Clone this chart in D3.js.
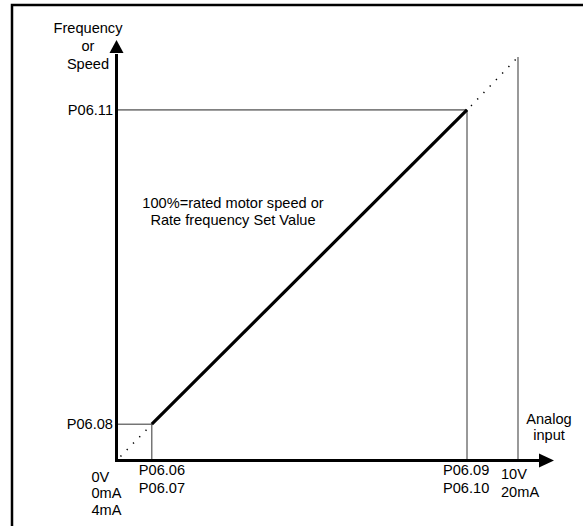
<!DOCTYPE html>
<html><head><meta charset="utf-8">
<script src="https://cdn.jsdelivr.net/npm/d3@7"></script>
<style>body{margin:0;background:#fff}svg{display:block}text{font-family:"Liberation Sans",Arial,sans-serif;font-size:14.6px;fill:#000}</style>
</head><body>
<svg id="c" width="583" height="526"></svg>
<script>
// Analog input values (0..10 = 0V..10V) and output values (0..10 = 0..100%)
const inputPoints = [0, 0.88, 8.73, 10];          // origin, P06.06, P06.09, 10V
const outputPoints = [0, 0.9, 8.69, 10];          // origin, P06.08, P06.11, max
const xTickLabels = [["0V","0mA","4mA"], ["P06.06","P06.07"], ["P06.09","P06.10"], ["10V","20mA"]];
const yTickLabels = ["", "P06.08", "P06.11", ""];
const yTitle = ["Frequency","or","Speed"];
const xTitle = ["Analog","input"];
const note = ["100%=rated motor speed or","Rate frequency Set Value"];

const svg = d3.select("#c");
const x = d3.scaleLinear().domain([0,10]).range([116.5,518]);
const y = d3.scaleLinear().domain([0,10]).range([460.5,57]);

// frame
svg.append("rect").attr("x",12).attr("y",5).attr("width",700).attr("height",700)
  .attr("fill","none").attr("stroke","#000").attr("stroke-width",2.5);

const x0=inputPoints[0], x1=inputPoints[1], x2=inputPoints[2], x3=inputPoints[3];
const y0=outputPoints[0], y1=outputPoints[1], y2=outputPoints[2], y3=outputPoints[3];

// guide lines
svg.append("line").attr("x1",x(x0)).attr("x2",x(x2)).attr("y1",y(y2)).attr("y2",y(y2))
  .attr("stroke","#808080").attr("stroke-width",1.6);
svg.append("line").attr("x1",x(x2)).attr("x2",x(x2)).attr("y1",y(y2)).attr("y2",y(y0))
  .attr("stroke","#333").attr("stroke-width",1);
svg.append("line").attr("x1",x(x3)).attr("x2",x(x3)).attr("y1",y(y3)).attr("y2",y(y0))
  .attr("stroke","#808080").attr("stroke-width",1.6);
svg.append("line").attr("x1",x(x0)).attr("x2",x(x1)).attr("y1",y(y1)).attr("y2",y(y1))
  .attr("stroke","#333").attr("stroke-width",1);
svg.append("line").attr("x1",x(x1)).attr("x2",x(x1)).attr("y1",y(y1)).attr("y2",y(y0))
  .attr("stroke","#333").attr("stroke-width",1);

// dotted extensions
[[x0,y0,x1,y1],[x2,y2,x3,y3]].forEach(([a,b,c,d])=>{
  svg.append("line").attr("x1",x(a)+4).attr("y1",y(b)-4).attr("x2",x(c)).attr("y2",y(d))
    .attr("stroke","#000").attr("stroke-width",1.5).attr("stroke-dasharray","1.3,7.7");
});

// main line
svg.append("line").attr("x1",x(x1)).attr("y1",y(y1)).attr("x2",x(x2)).attr("y2",y(y2))
  .attr("stroke","#000").attr("stroke-width",3.2);

// axes
svg.append("line").attr("x1",x(0)).attr("x2",x(0)).attr("y1",y(0)+1.5).attr("y2",y(10)-3)
  .attr("stroke","#000").attr("stroke-width",3);
svg.append("line").attr("x1",x(0)-1.5).attr("x2",x(10)+22).attr("y1",y(0)).attr("y2",y(0))
  .attr("stroke","#000").attr("stroke-width",3);
// arrowheads
const ax=x(0), ay=y(10)-17;
svg.append("path").attr("d",`M${ax},${ay} L${ax+7},${ay+13} L${ax-7},${ay+13}Z`).attr("fill","#000");
const bx=x(10)+36, by=y(0);
svg.append("path").attr("d",`M${bx},${by} L${bx-15},${by-7} L${bx-15},${by+7}Z`).attr("fill","#000");

// y tick labels
outputPoints.forEach((v,i)=>{
  if(!yTickLabels[i]) return;
  svg.append("text").attr("x",x(0)-3.5).attr("y",y(v)+5).attr("text-anchor","end").text(yTickLabels[i]);
});
// x tick labels
const xOff=[-25,-13,-24,-17], yBase=[481.5,475,475,478.5], lh=[16.7,17.5,18,18];
inputPoints.forEach((v,i)=>{
  xTickLabels[i].forEach((t,j)=>{
    svg.append("text").attr("x",x(v)+xOff[i]).attr("y",yBase[i]+j*lh[i]).text(t);
  });
});
// titles
yTitle.forEach((t,j)=>svg.append("text").attr("x",x(0)-28.5).attr("y",33+j*18).attr("text-anchor","middle").text(t));
xTitle.forEach((t,j)=>svg.append("text").attr("x",549).attr("y",424+j*16).attr("text-anchor","middle").text(t));
note.forEach((t,j)=>svg.append("text").attr("x",233).attr("y",208+j*16.5).attr("text-anchor","middle").text(t));
</script>
</body></html>
